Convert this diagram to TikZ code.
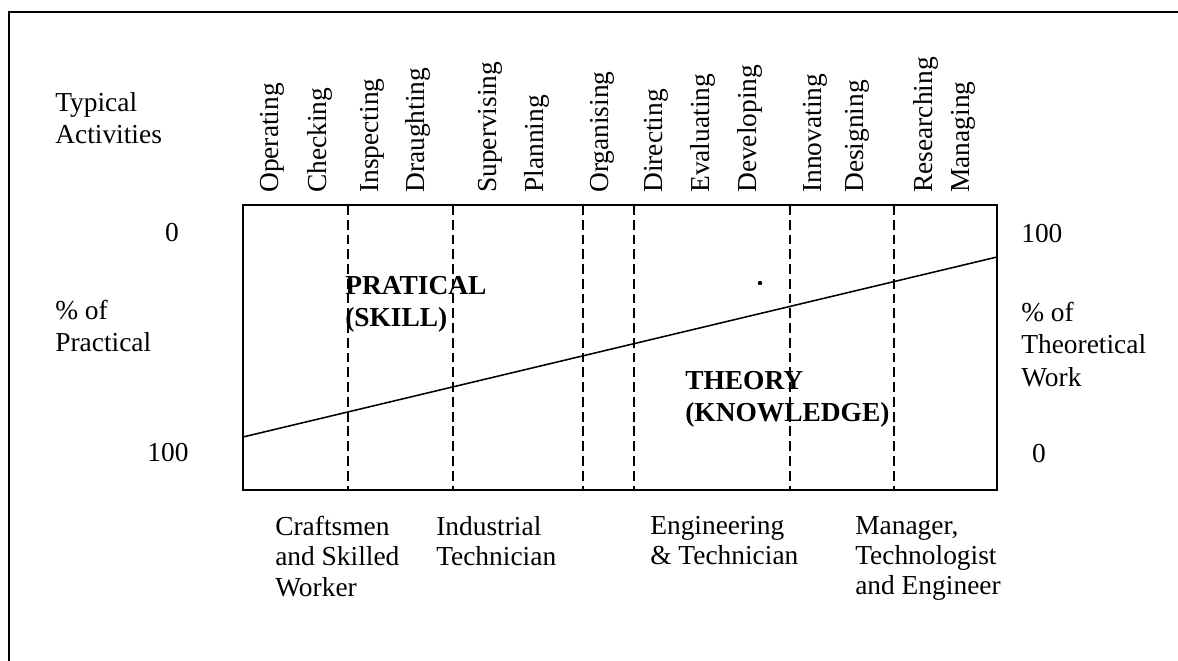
\documentclass[tikz,border=0pt]{standalone}
\usepackage{fontspec}
\setmainfont{Liberation Serif}

\begin{document}
\begin{tikzpicture}[x=0.025cm,y=-0.025cm,
  txt/.style={inner sep=0pt,align=left,font=\fontsize{19.5}{23}\selectfont},
  group/.style={inner sep=0pt,align=left,anchor=north west,font=\fontsize{19.5}{21.5}\selectfont},
  act/.style={inner sep=0pt,rotate=90,anchor=west,font=\fontsize{19.5}{23}\selectfont},
  area/.style={inner sep=0pt,align=left,anchor=north west,font=\fontsize{19.5}{23}\selectfont\bfseries},
  frame/.style={line width=1.3pt},
  divider/.style={line width=0.9pt,dash pattern=on 7pt off 3.5pt}]

\useasboundingbox (0,0) rectangle (1178,661);

\draw[frame] (9,661) -- (9,12) -- (1178,12);

\coordinate (boxNW) at (243,205);
\coordinate (boxSE) at (997,490);
\draw[frame] (boxNW) rectangle (boxSE);

\draw[divider] (348,205) -- (348,490);
\draw[divider] (453,205) -- (453,490);
\draw[divider] (583,205) -- (583,490);
\draw[divider] (634,205) -- (634,490);
\draw[divider] (790,205) -- (790,490);
\draw[divider] (894,205) -- (894,490);

\coordinate (split0) at (243,437);
\coordinate (split1) at (997,257);
\draw[line width=1.1pt] (split0) -- (split1);
\fill (760,283) circle (2.2);

\node[txt,anchor=north west] (typical) at (55,92) {Typical\\Activities};
\node[act] (operating) at (272,193) {Operating};
\node[act] (checking) at (320,193) {Checking};
\node[act] (inspecting) at (372,193) {Inspecting};
\node[act] (draughting) at (418,193) {Draughting};
\node[act] (supervising) at (490,193) {Supervising};
\node[act] (planning) at (537,193) {Planning};
\node[act] (organising) at (602,193) {Organising};
\node[act] (directing) at (656,193) {Directing};
\node[act] (evaluating) at (703,193) {Evaluating};
\node[act] (developing) at (750,193) {Developing};
\node[act] (innovating) at (815,193) {Innovating};
\node[act] (designing) at (857,193) {Designing};
\node[act] (researching) at (926,193) {Researching};
\node[act] (managing) at (963,193) {Managing};

\node[txt,anchor=north] (prac0) at (172,223) {0};
\node[txt,anchor=north west] (pracpct) at (55,300) {\% of\\Practical};
\node[txt,anchor=north] (prac100) at (168,443) {100};

\node[txt,anchor=north west] (theo100) at (1021,224) {100};
\node[txt,anchor=north west] (theopct) at (1021,302) {\% of\\Theoretical\\Work};
\node[txt,anchor=north] (theo0) at (1039,444) {0};

\node[area] (skill) at (345,276) {PRATICAL\\(SKILL)};
\node[area] (knowledge) at (685,371) {THEORY\\(KNOWLEDGE)};

\node[group] (craftsmen) at (275,516) {Craftsmen\\and Skilled\\Worker};
\node[group] (industrial) at (436,516) {Industrial\\Technician};
\node[group] (engineering) at (650,516) {Engineering\\\& Technician};
\node[group] (manager) at (855,516) {Manager,\\Technologist\\and Engineer};

\end{tikzpicture}
\end{document}
